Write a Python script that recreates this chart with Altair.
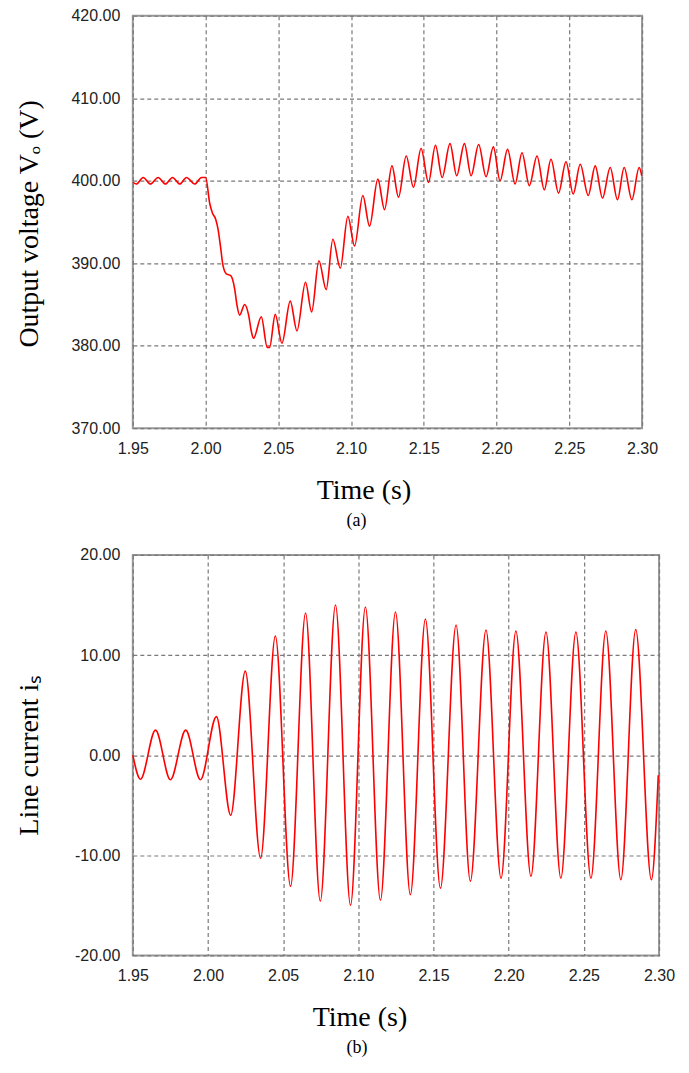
import altair as alt
import pandas as pd

# ---- (a) Output voltage ----
t_v = [1.9500, 1.9525, 1.9571, 1.9621, 1.9674, 1.9724, 1.9773, 1.9823, 1.9869, 1.9926,
       1.9972, 2.0001, 2.0028, 2.0047, 2.0070, 2.0086, 2.0102, 2.0120, 2.0143, 2.0173,
       2.0200, 2.0216, 2.0234, 2.0269, 2.0296, 2.0315, 2.0330, 2.0383, 2.0424, 2.0440,
       2.0479, 2.0525, 2.0582, 2.0628, 2.0687, 2.0729, 2.0779, 2.0829, 2.0875, 2.0926,
       2.0978, 2.1024, 2.1081, 2.1127, 2.1184, 2.1230, 2.1281, 2.1326, 2.1379, 2.1429,
       2.1481, 2.1532, 2.1580, 2.1626, 2.1680, 2.1726, 2.1779, 2.1825, 2.1877, 2.1928,
       2.1978, 2.2024, 2.2076, 2.2127, 2.2175, 2.2225, 2.2278, 2.2328, 2.2374, 2.2426,
       2.2477, 2.2527, 2.2575, 2.2630, 2.2678, 2.2728, 2.2781, 2.2831, 2.2877, 2.2930,
       2.2980, 2.2998]
v_o = [399.8, 399.6, 400.4, 399.6, 400.4, 399.6, 400.4, 399.6, 400.4, 399.6,
       400.4, 400.4, 397.3, 396.1, 395.3, 394.1, 392.1, 389.7, 388.7, 388.5,
       386.9, 384.9, 383.7, 385.0, 383.7, 381.7, 380.9, 383.5, 379.8, 379.8,
       383.8, 380.3, 385.4, 381.8, 387.7, 384.1, 390.3, 386.8, 392.9, 389.4,
       395.7, 392.1, 398.2, 394.5, 400.2, 396.5, 401.8, 398.0, 403.0, 399.2,
       403.9, 399.8, 404.3, 400.4, 404.5, 400.6, 404.5, 400.6, 404.4, 400.5,
       404.1, 400.0, 403.8, 399.6, 403.4, 399.4, 403.0, 398.9, 402.6, 398.5,
       402.3, 398.4, 402.0, 398.2, 401.8, 397.9, 401.6, 397.7, 401.6, 397.7,
       401.6, 400.6]

# ---- (b) Line current ----
t_i = [1.9500, 1.9551, 1.9651, 1.9750, 1.9852, 1.9950, 2.0056, 2.0151, 2.0248, 2.0350,
       2.0448, 2.0549, 2.0649, 2.0747, 2.0848, 2.0948, 2.1047, 2.1147, 2.1247, 2.1346,
       2.1446, 2.1546, 2.1650, 2.1745, 2.1849, 2.1949, 2.2048, 2.2148, 2.2248, 2.2347,
       2.2447, 2.2547, 2.2646, 2.2746, 2.2845, 2.2949, 2.2995]
i_s = [0.0, -2.4, 2.5, -2.45, 2.5, -2.45, 3.85, -6.0, 8.4, -10.3,
       11.9, -13.1, 14.2, -14.6, 15.0, -15.0, 14.8, -14.5, 14.3, -13.95,
       13.6, -13.3, 13.0, -12.6, 12.5, -12.3, 12.4, -12.1, 12.3, -12.3,
       12.3, -12.3, 12.4, -12.45, 12.55, -12.45, -2.0]

x_ticks = [1.95, 2.00, 2.05, 2.10, 2.15, 2.20, 2.25, 2.30]
v_ticks = [370, 380, 390, 400, 410, 420]
i_ticks = [-20, -10, 0, 10, 20]

df_v = pd.DataFrame({"t": t_v, "v": v_o})
df_i = pd.DataFrame({"t": t_i, "i": i_s})

LABEL_EXPR = "replace(format(datum.value, '.2f'), '\u2212', '-')"

common_axis = dict(
    grid=True, gridColor="#7a7a7a", gridDash=[4, 3], gridWidth=1.2,
    ticks=False, tickSize=0, domain=False, labelFlush=False,
    labelFont="Liberation Sans", labelFontSize=16, labelColor="#222222",
    titleFont="Liberation Serif", titleFontSize=28, titleFontWeight="normal",
    titleColor="#000000",
)


def xaxis(tx):
    return alt.Axis(values=x_ticks, labelExpr=LABEL_EXPR, labelPadding=12,
                    title="Time (s)", titleX=tx, titleY=70,
                    titleBaseline="alphabetic", **common_axis)


def yaxis(vals, title, ty):
    return alt.Axis(values=vals, labelExpr=LABEL_EXPR, labelPadding=13,
                    title=title, titleX=-95.5, titleY=ty, titleAngle=270,
                    titleBaseline="alphabetic", **common_axis)


top = alt.Chart(df_v).mark_line(color="#ff0000", strokeWidth=1.6, interpolate="monotone").encode(
    x=alt.X("t:Q", scale=alt.Scale(domain=[1.95, 2.30], nice=False, zero=False), axis=xaxis(231)),
    y=alt.Y("v:Q", scale=alt.Scale(domain=[370, 420], nice=False, zero=False),
            axis=yaxis(v_ticks, "Output voltage V\u2092 (V)", 208)),
).properties(
    width=510, height=413,
    title=alt.TitleParams("(a)", orient="bottom", anchor="middle", frame="group",
                          font="Liberation Serif", fontSize=18, fontWeight="normal",
                          color="#000000", dx=-31, offset=8),
)

bottom = alt.Chart(df_i).mark_line(color="#ff0000", strokeWidth=1.6, interpolate="monotone").encode(
    x=alt.X("t:Q", scale=alt.Scale(domain=[1.95, 2.30], nice=False, zero=False), axis=xaxis(227)),
    y=alt.Y("i:Q", scale=alt.Scale(domain=[-20, 20], nice=False, zero=False),
            axis=yaxis(i_ticks, "Line current i\u209b", 200)),
).properties(
    width=527, height=401,
    title=alt.TitleParams("(b)", orient="bottom", anchor="middle", frame="group",
                          font="Liberation Serif", fontSize=18, fontWeight="normal",
                          color="#000000", dx=-39, offset=8),
)

chart = alt.vconcat(top, bottom, spacing=15).configure_view(
    stroke="#999999", strokeWidth=2
).properties(
    padding={"left": 6, "top": -2, "right": 5, "bottom": 5},
    background="#ffffff",
)

chart.save("out.html", embed_options={"renderer": "svg", "actions": False})
